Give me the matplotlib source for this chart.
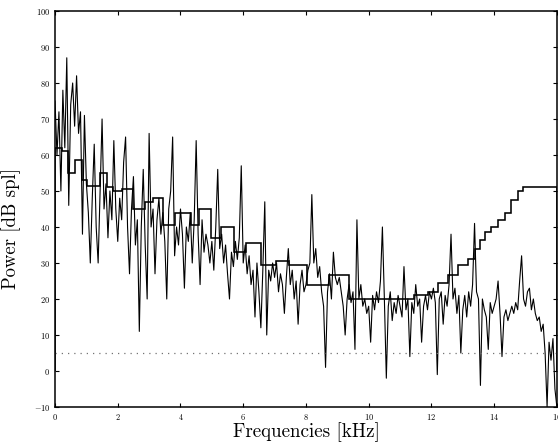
"""Power spectrum with masking threshold staircase."""
import matplotlib

matplotlib.use("Agg")
import matplotlib.pyplot as plt
import numpy as np

plt.rcParams["font.family"] = "cmr10"
plt.rcParams["axes.formatter.use_mathtext"] = True

# spectrum, one value every 1/16 kHz (dB spl)
spectrum = [
    75, 60, 72, 50, 78, 62, 87, 46, 74, 80, 68, 82, 66, 72, 38, 71,
    52, 44, 30, 48, 63, 40, 30, 50, 70, 45, 52, 37, 50, 42, 64, 45,
    36, 48, 42, 58, 65, 40, 27, 45, 54, 35, 42, 11, 40, 56, 35, 20,
    66, 40, 45, 27, 42, 48, 38, 44, 36, 20, 45, 50, 65, 32, 40, 35,
    45, 38, 23, 40, 36, 44, 30, 42, 64, 38, 24, 42, 33, 38, 35, 30,
    36, 28, 40, 56, 34, 38, 30, 35, 27, 20, 33, 29, 36, 31, 37, 57,
    30, 35, 27, 32, 24, 28, 15, 30, 22, 12, 28, 47, 10, 28, 25, 30,
    26, 30, 22, 27, 24, 16, 26, 34, 24, 28, 20, 25, 13, 24, 28, 22,
    24, 28, 30, 49, 30, 34, 26, 29, 22, 18, 1, 22, 27, 20, 33, 26,
    24, 26, 22, 18, 10, 20, 24, 19, 22, 6, 42, 20, 24, 18, 20, 16,
    18, 8, 21, 17, 22, 19, 25, 40, 20, -2, 18, 22, 14, 19, 16, 21,
    18, 15, 29, 17, 20, 4, 19, 16, 24, 18, 20, 8, 18, 21, 17, 22,
    20, 23, 19, -1, 20, 22, 13, 21, 18, 24, 38, 20, 23, 16, 21, 5,
    17, 21, 15, 22, 18, 24, 41, 22, 20, -4, 20, 17, 15, 6, 19, 16,
    18, 20, 25, 16, 4, 15, 17, 14, 16, 18, 16, 19, 17, 25, 32, 20,
    18, 22, 23, 17, 20, 16, 14, 15, 11, 13, 5, -10, 8, 3, 9, -5,
    -10,
]

# masking threshold: band edges (kHz) and level of each band (dB spl)
band_edges = [
    0, 0.22, 0.41, 0.63, 0.86, 1.02, 1.43, 1.65, 1.84, 2.13, 2.48, 2.86,
    3.11, 3.43, 3.81, 4.35, 4.6, 4.98, 5.3, 5.71, 6.1, 6.57, 7.05, 7.46,
    8.03, 8.73, 9.37, 11.43, 11.9, 12.22, 12.54, 12.86, 13.17, 13.4,
    13.56, 13.71, 13.9, 14.13, 14.35, 14.54, 14.76, 14.92, 16,
]
band_levels = [
    62, 61, 55, 58.5, 53, 51.5, 55, 51, 50, 50.5, 45, 47,
    48, 40.5, 44, 40.5, 45, 37, 40, 33, 35.5, 29.5, 30.5, 29.5,
    24, 26.7, 20, 21, 22, 24.4, 26.7, 29.4, 31, 34,
    36.4, 38.6, 40, 42, 44, 47.5, 50, 51,
]

absolute_threshold = 5

freqs = np.arange(len(spectrum)) / 16

fig = plt.figure(figsize=(5.58, 4.45), dpi=100)
ax = fig.add_axes([0.0986, 0.0854, 0.8994, 0.8899])

ax.plot(freqs, spectrum, color="black", linewidth=0.8)
ax.stairs(band_levels, band_edges, color="black", linewidth=1.15)
ax.axhline(absolute_threshold, color="0.45", linestyle=(0, (1, 4)), linewidth=0.9)

ax.set_xlim(0, 16)
ax.set_ylim(-10, 100)
ax.set_xticks(range(0, 17, 2))
ax.set_yticks(range(-10, 101, 10))
ax.tick_params(direction="in", top=True, right=True, labelsize=6, length=3)
for spine in ax.spines.values():
    spine.set_linewidth(1.1)

ax.set_xlabel("Frequencies [kHz]", fontsize=13.7, labelpad=0)
ax.set_ylabel("Power [dB spl]", fontsize=13.5)
ax.yaxis.set_label_coords(-0.068, 0.452)

fig.savefig("out.png", dpi=100)
